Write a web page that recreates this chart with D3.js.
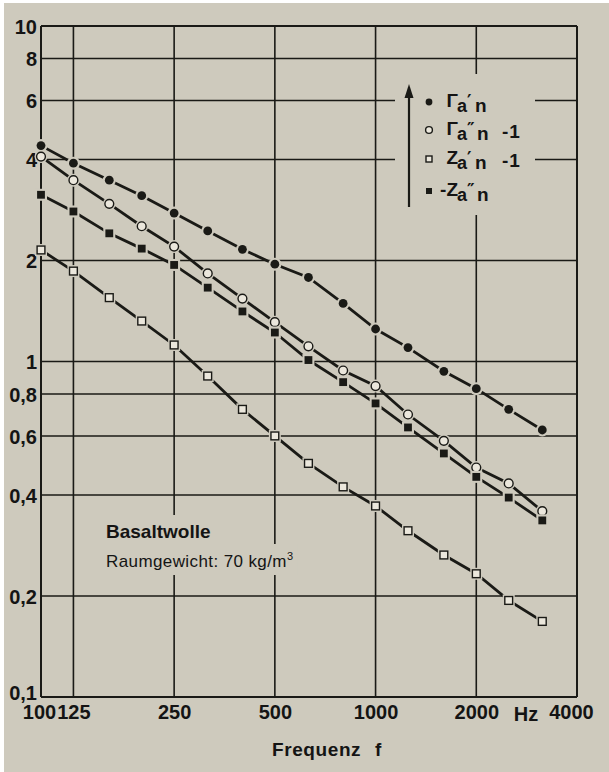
<!DOCTYPE html>
<html>
<head>
<meta charset="utf-8">
<script src="https://cdn.jsdelivr.net/npm/d3@7"></script>
<style>
  body { margin: 0; background: #ffffff; }
  svg { display: block; }
  text { font-family: "Liberation Sans", Arial, Helvetica, sans-serif; fill: #141414; }
</style>
</head>
<body>
<main></main>
<script>
// Data (third-octave centre frequencies)
const freqs = [100, 125, 160, 200, 250, 315, 400, 500, 630, 800, 1000, 1250, 1600, 2000, 2500, 3150];
const gammaPrime = [4.40, 3.90, 3.47, 3.12, 2.77, 2.45, 2.16, 1.95, 1.78, 1.49, 1.25, 1.10, 0.935, 0.83, 0.72, 0.625];
const gammaDoublePrimeMinus1 = [4.08, 3.47, 2.95, 2.53, 2.20, 1.83, 1.54, 1.31, 1.11, 0.94, 0.845, 0.695, 0.58, 0.483, 0.433, 0.358];
const zPrimeMinus1 = [2.15, 1.86, 1.55, 1.32, 1.12, 0.905, 0.72, 0.60, 0.497, 0.423, 0.371, 0.313, 0.265, 0.233, 0.194, 0.168];
const negZDoublePrime = [3.14, 2.80, 2.41, 2.17, 1.94, 1.66, 1.41, 1.22, 1.01, 0.868, 0.75, 0.636, 0.532, 0.453, 0.393, 0.336];

const xTicks = [100, 125, 250, 500, 1000, 2000, 4000];
const yTicks = [0.1, 0.2, 0.4, 0.6, 0.8, 1, 2, 4, 6, 8, 10];

// Constants
const width = 609;
const height = 772;
const paper = "#cecabd";
const ink = "#1a1a16";

const svg = d3.select("main")
  .append("svg")
  .attr("width", width)
  .attr("height", height);

// paper background (thin white edge at top/left like the scan)
svg.append("rect")
  .attr("x", 4).attr("y", 3)
  .attr("width", width - 4).attr("height", height - 3)
  .attr("fill", paper);

const x = d3.scaleLog().domain([100, 4000]).range([41, 577]);
const y = d3.scaleLog().domain([0.1, 10]).range([697, 26]);

// grid
const grid = svg.append("g").attr("stroke", ink);
grid.selectAll(".vline")
  .data(xTicks)
  .enter()
  .append("line")
  .attr("x1", d => x(d)).attr("x2", d => x(d))
  .attr("y1", y(10)).attr("y2", y(0.1))
  .attr("stroke-width", (d, i) => (i === 0 || i === xTicks.length - 1) ? 2 : 1.6);
grid.selectAll(".hline")
  .data(yTicks)
  .enter()
  .append("line")
  .attr("x1", x(100)).attr("x2", x(4000))
  .attr("y1", d => y(d)).attr("y2", d => y(d))
  .attr("stroke-width", (d, i) => (i === 0 || i === yTicks.length - 1) ? 2 : 1.6);

// y axis labels
const yAxis = d3.axisLeft(y)
  .tickValues(yTicks)
  .tickSize(0)
  .tickPadding(4)
  .tickFormat(d => String(d).replace(".", ","));
const yg = svg.append("g")
  .attr("transform", `translate(${x(100)},0)`)
  .call(yAxis);
yg.select(".domain").remove();
yg.selectAll("text")
  .attr("font-size", 20)
  .attr("font-weight", "bold")
  .attr("font-family", "'Liberation Sans', Arial, sans-serif")
  .attr("fill", "#141414")
  .attr("dy", (d) => d === 0.1 ? "0.12em" : "0.36em");

// x axis labels
const xAxis = d3.axisBottom(x)
  .tickValues(xTicks)
  .tickSize(0)
  .tickPadding(8)
  .tickFormat(d3.format("d"));
const xg = svg.append("g")
  .attr("transform", `translate(0,${y(0.1)})`)
  .call(xAxis);
xg.select(".domain").remove();
xg.selectAll("text")
  .attr("font-size", 20)
  .attr("font-weight", "bold")
  .attr("font-family", "'Liberation Sans', Arial, sans-serif")
  .attr("fill", "#141414")
  .attr("dx", d => d === 4000 ? -6 : d === 100 ? -2 : 0);

svg.append("text")
  .attr("x", 526).attr("y", 721)
  .attr("text-anchor", "middle")
  .attr("font-size", 20).attr("font-weight", "bold")
  .text("Hz");

svg.append("text")
  .attr("x", 327).attr("y", 756)
  .attr("text-anchor", "middle")
  .attr("font-size", 19).attr("font-weight", "bold")
  .attr("word-spacing", "8px")
  .attr("letter-spacing", "0.6px")
  .text("Frequenz f");

// series
const series = [
  { key: "gammaPrime", values: gammaPrime, shape: "circle", filled: true },
  { key: "gammaDoublePrimeMinus1", values: gammaDoublePrimeMinus1, shape: "circle", filled: false },
  { key: "zPrimeMinus1", values: zPrimeMinus1, shape: "square", filled: false },
  { key: "negZDoublePrime", values: negZDoublePrime, shape: "square", filled: true },
];

const line = d3.line()
  .x(d => x(d.f))
  .y(d => y(d.v));

function drawMarker(g, cx, cy, s, size) {
  if (s.shape === "circle") {
    g.append("circle")
      .attr("cx", cx).attr("cy", cy).attr("r", size)
      .attr("fill", s.filled ? ink : "#ebe7dc")
      .attr("stroke", ink)
      .attr("stroke-width", s.filled ? 0 : 1.4);
  } else {
    g.append("rect")
      .attr("x", cx - size).attr("y", cy - size)
      .attr("width", size * 2).attr("height", size * 2)
      .attr("fill", s.filled ? ink : "#ebe7dc")
      .attr("stroke", ink)
      .attr("stroke-width", s.filled ? 0 : 1.4);
  }
}

series.forEach(s => {
  const pts = freqs.map((f, i) => ({ f: f, v: s.values[i] }));
  const g = svg.append("g").attr("class", "series " + s.key);
  g.append("path")
    .datum(pts)
    .attr("d", line)
    .attr("fill", "none")
    .attr("stroke", ink)
    .attr("stroke-width", 2.8);
  // halo so the line stops short of each marker
  g.selectAll(".halo")
    .data(pts)
    .enter()
    .append(s.shape === "circle" ? "circle" : "rect")
    .attr("class", "halo")
    .each(function (d) {
      const el = d3.select(this);
      if (s.shape === "circle") {
        el.attr("cx", x(d.f)).attr("cy", y(d.v)).attr("r", 6.5);
      } else {
        el.attr("x", x(d.f) - 6).attr("y", y(d.v) - 6).attr("width", 12).attr("height", 12);
      }
    })
    .attr("fill", paper);
  pts.forEach(d => drawMarker(g, x(d.f), y(d.v), s, s.shape === "circle" ? 4.4 : 3.9));
});

// legend
const legend = svg.append("g").attr("id", "legend");
legend.append("rect")
  .attr("x", 395).attr("y", 74)
  .attr("width", 140).attr("height", 141)
  .attr("fill", paper);
legend.append("line")
  .attr("x1", 409).attr("x2", 409)
  .attr("y1", 207).attr("y2", 95)
  .attr("stroke", ink).attr("stroke-width", 2.2);
legend.append("path")
  .attr("d", "M409,84 L404.5,98 L413.5,98 Z")
  .attr("fill", ink);

const legendRows = [
  { main: "Γ", prime: "′", tail: "", base: 112 },
  { main: "Γ", prime: "″", tail: "-1", base: 140 },
  { main: "Z", prime: "′", tail: "-1", base: 169 },
  { main: "-Z", prime: "″", tail: "", base: 201 },
];

legendRows.forEach((r, i) => {
  drawMarker(legend, 429, r.base - 10, series[i], series[i].shape === "circle" ? 3.4 : 3);
  const t = legend.append("text")
    .attr("font-weight", "bold");
  t.append("tspan")
    .attr("x", 458).attr("y", r.base - 5)
    .attr("text-anchor", "end")
    .attr("font-size", 19)
    .text(r.main);
  t.append("tspan")
    .attr("x", 457).attr("y", r.base)
    .attr("text-anchor", "start")
    .attr("font-size", 18)
    .text("a");
  t.append("tspan")
    .attr("x", 467).attr("y", r.base - 5)
    .attr("font-size", 17)
    .attr("font-family", "'DejaVu Sans', sans-serif")
    .text(r.prime);
  t.append("tspan")
    .attr("x", r.prime === "″" ? 477 : 475).attr("y", r.base)
    .attr("font-size", 19)
    .text("n");
  if (r.tail) {
    t.append("tspan")
      .attr("x", 502).attr("y", r.base - 2)
      .attr("font-size", 19)
      .attr("letter-spacing", "1px")
      .text(r.tail);
  }
});

// material note
const note = svg.append("g").attr("id", "note");
const title = note.append("text")
  .attr("x", 106).attr("y", 538)
  .attr("font-size", 19).attr("font-weight", "bold")
  .text("Basaltwolle");
const sub = note.append("text")
  .attr("x", 106).attr("y", 567)
  .attr("font-size", 17)
  .attr("letter-spacing", "0.4px");
sub.append("tspan").text("Raumgewicht: 70 kg/m");
sub.append("tspan").attr("dy", -7).attr("font-size", 11).text("3");
[title, sub].forEach(t => {
  const b = t.node().getBBox();
  note.insert("rect", "text")
    .attr("x", b.x - 8).attr("y", b.y - 6)
    .attr("width", b.width + 12).attr("height", b.height + 10)
    .attr("fill", paper);
});
</script>
</body>
</html>
